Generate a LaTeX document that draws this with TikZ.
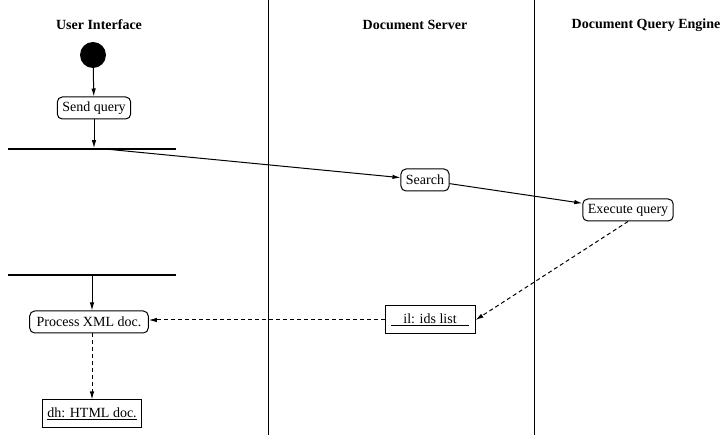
\documentclass[tikz,border=0pt]{standalone}
\usepackage{fontspec}
\setmainfont{Liberation Serif}
\usepackage{tikz}
\usetikzlibrary{arrows.meta,positioning}
\tikzset{
  action/.style={draw, rounded corners=5pt, align=center, inner xsep=5pt, minimum height=22pt, line width=1pt},
  object/.style={draw, align=center, inner xsep=5pt, minimum height=28pt, line width=1pt},
  bar/.style={fill=black, inner sep=0pt, minimum width=168pt, minimum height=1.4pt},
  initial/.style={circle, fill=black, minimum size=26pt, inner sep=0pt},
  lane/.style={line width=1pt},
  heading/.style={font=\fontsize{14}{16}\selectfont\bfseries},
  arrow/.style={-{Latex[length=8pt,width=4.5pt]}, line width=1pt},
  dataarrow/.style={-{Latex[length=8pt,width=4.5pt]}, line width=1pt, dash pattern=on 4pt off 3pt}
}

\begin{document}
\begin{tikzpicture}[x=1pt, y=-1pt, font=\fontsize{14}{16}\selectfont]
  \useasboundingbox (0,0) rectangle (723,435);
  % swimlanes
  \draw[lane] (268,0) -- (268,435);
  \draw[lane] (534,0) -- (534,435);
  \node[heading] (ui) at (99,25) {User Interface};
  \node[heading] (ds) at (415,25) {Document Server};
  \node[heading] (qe) at (646,25) {Document Query Engine};

  \node[initial] (start) at (93,55) {};
  \node[action] (send) at (94,108) {Send query};
  \node[bar] (fork) at (92,149) {};
  \node[action] (search) at (425,180) {Search};
  \node[action] (execute) at (628,210) {Execute query};
  \node[bar] (join) at (92,275) {};
  \node[action, inner xsep=7pt] (process) at (89,322) {Process XML doc.};
  \node[object, minimum width=90pt] (il) at (430,320) {\underline{\makebox[78pt]{il: ids list}}};
  \node[object] (dh) at (92,414) {\underline{dh: HTML doc.}};

  \draw[arrow] (start) -- (send);
  \draw[arrow] (send.south) -- (send.south |- fork.north);
  \draw[arrow] ([xshift=13pt]fork.center) -- (search);
  \draw[arrow] (search) -- (execute);
  \draw[arrow] (join.center) -- (join.center |- process.north);
  \draw[dataarrow] (execute.south) -- (il.east);
  \draw[dataarrow] (il.west) -- (il.west -| process.east);
  \draw[dataarrow] (process.south -| dh.north) -- (dh.north);
\end{tikzpicture}
\end{document}
